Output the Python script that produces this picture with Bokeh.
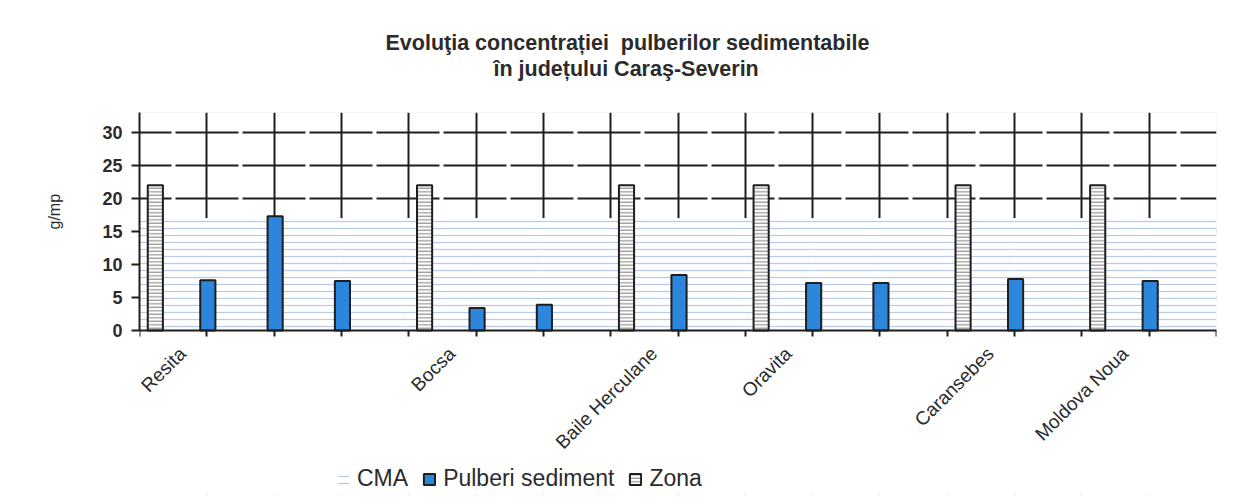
import math
from bokeh.plotting import figure
from bokeh.models import (Range1d, FixedTicker, CustomJSTickFormatter, BoxAnnotation,
                          ColumnDataSource, Legend, LegendItem, Title)
from bokeh.transform import dodge
from bokeh.embed import file_html
from bokeh.resources import INLINE

# ---------------- data ----------------
title_line1 = "Evoluţia concentrației \u00a0pulberilor sedimentabile"
title_line2 = "în județului Caraş-Severin"
y_label = "g/mp"
categories = ["Resita", "", "", "", "Bocsa", "", "", "Baile Herculane", "",
              "Oravita", "", "", "Caransebes", "", "Moldova Noua", ""]
cma = [17, 17, 17, 17, 17, 17, 17, 17, 17, 17, 17, 17, 17, 17, 17, 17]
pulberi = [None, 7.6, 17.3, 7.5, None, 3.4, 3.9, None, 8.4, None, 7.2, 7.2,
           None, 7.8, None, 7.5]
zona = [22, None, None, None, 22, None, None, 22, None, 22, None, None,
        22, None, 22, None]
y_ticks = [0, 5, 10, 15, 20, 25, 30]
y_max = 33
legend_labels = ["CMA", "Pulberi sediment", "Zona"]

FONT = "Liberation Sans"
INK = "#1e1e1e"
TXT = "#2b2b2b"

idx = list(range(len(categories)))
n = len(categories)

cma_src = ColumnDataSource(dict(x=idx, top=cma))
p_idx = [i for i, v in enumerate(pulberi) if v is not None]
pul_src = ColumnDataSource(dict(x=p_idx, top=[pulberi[i] for i in p_idx]))
z_idx = [i for i, v in enumerate(zona) if v is not None]
zon_src = ColumnDataSource(dict(x=z_idx, top=[zona[i] for i in z_idx]))

# plot area 0..33 is 218 px tall; the frame continues 164 px below zero
# so that the category labels and the legend live inside it
plot_px, below_px = 218, 164
y_min = -y_max * below_px / plot_px

p = figure(frame_width=1077, frame_height=plot_px + below_px,
           x_range=Range1d(0, n), y_range=Range1d(y_min, y_max),
           output_backend="svg", toolbar_location=None,
           min_border_left=139, min_border_right=11,
           min_border_top=112, min_border_bottom=2)
p.background_fill_color = "white"
p.border_fill_color = "white"
p.outline_line_color = None

# white cover below the zero line (hides grid lines there) and plot-area border
p.add_layout(BoxAnnotation(top=0, bottom=y_min - 3, fill_color="white", fill_alpha=1,
                           line_color=None, level="underlay"))
p.add_layout(BoxAnnotation(bottom=0, fill_alpha=0, line_color="#b4c8e4",
                           line_width=1, level="underlay"))

# CMA area (hatched, opaque, drawn over the grid)
r_cma = p.vbar(x=dodge("x", 0.5), top="top", bottom=0, width=1.03, source=cma_src,
               fill_color="white", line_color=None,
               hatch_pattern="horizontal_line", hatch_color="#b9cbe8",
               hatch_scale=7, hatch_weight=1.3)

bw = 0.225
r_pul = p.vbar(x=dodge("x", 0.015), top="top", bottom=0, width=bw, source=pul_src,
               fill_color="#2c86dc", line_color=INK, line_width=2)
r_zon = p.vbar(x=dodge("x", 0.235), top="top", bottom=0, width=bw, source=zon_src,
               fill_color="white", line_color=INK, line_width=2,
               hatch_pattern="horizontal_line", hatch_color="#7a7a7a",
               hatch_scale=3.5, hatch_weight=1)

# grids
p.ygrid.ticker = FixedTicker(ticks=y_ticks)
p.ygrid.grid_line_color = INK
p.ygrid.grid_line_width = 2
p.ygrid.grid_line_dash = "63 4"
p.ygrid.grid_line_dash_offset = 31
p.xgrid.ticker = FixedTicker(ticks=list(range(n + 1)))
p.xgrid.grid_line_color = INK
p.xgrid.grid_line_width = 2

# y axis
yax = p.yaxis[0]
yax.bounds = (0, y_max)
yax.ticker = FixedTicker(ticks=y_ticks)
yax.axis_line_color = INK
yax.axis_line_width = 2
yax.major_tick_line_color = INK
yax.major_tick_line_width = 2
yax.major_tick_out = 8
yax.major_tick_in = 0
yax.minor_tick_line_color = None
yax.major_label_text_font = FONT
yax.major_label_text_font_style = "bold"
yax.major_label_text_font_size = "18px"
yax.major_label_text_color = TXT
yax.major_label_standoff = 9

# y-axis title, placed beside the 0..33 part of the frame
ytitle = Title(text=y_label, align="left", offset=265, standoff=74,
               vertical_align="bottom", text_font=FONT, text_font_style="normal",
               text_font_size="16px", text_color=TXT)
p.add_layout(ytitle, "left")

# x axis at zero: labels per category, ticks at category boundaries
label_shift = 0.64
xax = p.xaxis[0]
xax.fixed_location = 0
xax.ticker = FixedTicker(ticks=[i + label_shift for i in idx],
                         minor_ticks=list(range(n + 1)))
xax.formatter = CustomJSTickFormatter(args=dict(labels=categories),
                                      code="return labels[index] || '';")
xax.axis_line_color = INK
xax.axis_line_width = 2
xax.major_tick_line_color = None
xax.major_tick_out = 0
xax.major_tick_in = 0
xax.minor_tick_line_color = INK
xax.minor_tick_line_width = 2
xax.minor_tick_out = 6
xax.minor_tick_in = 0
xax.major_label_orientation = math.pi / 4
xax.major_label_text_font = FONT
xax.major_label_text_font_size = "19px"
xax.major_label_text_color = TXT
xax.major_label_standoff = 14

# titles (spacer keeps the two lines clear of the frame)
spacer = Title(text=" ", standoff=19, text_font_size="10px")
t2 = Title(text=title_line2, align="left", offset=354, standoff=0,
           text_font=FONT, text_font_style="bold", text_font_size="21.5px",
           text_color=TXT)
t1 = Title(text=title_line1, align="left", offset=246, standoff=0,
           text_font=FONT, text_font_style="bold", text_font_size="21.5px",
           text_color=TXT)
p.add_layout(spacer, "above")
p.add_layout(t2, "above")
p.add_layout(t1, "above")

# legend (inside the extended frame, under the category labels)
legend = Legend(items=[LegendItem(label=legend_labels[0], renderers=[r_cma]),
                       LegendItem(label=legend_labels[1], renderers=[r_pul]),
                       LegendItem(label=legend_labels[2], renderers=[r_zon])],
                orientation="horizontal", location=(197, 2),
                padding=0, margin=0, spacing=14,
                glyph_width=14, glyph_height=14, label_standoff=7,
                label_text_font=FONT, label_text_font_size="23px",
                label_text_color=TXT,
                border_line_color=None, background_fill_alpha=0)
p.add_layout(legend)

open("out.html", "w").write(file_html(p, INLINE))
